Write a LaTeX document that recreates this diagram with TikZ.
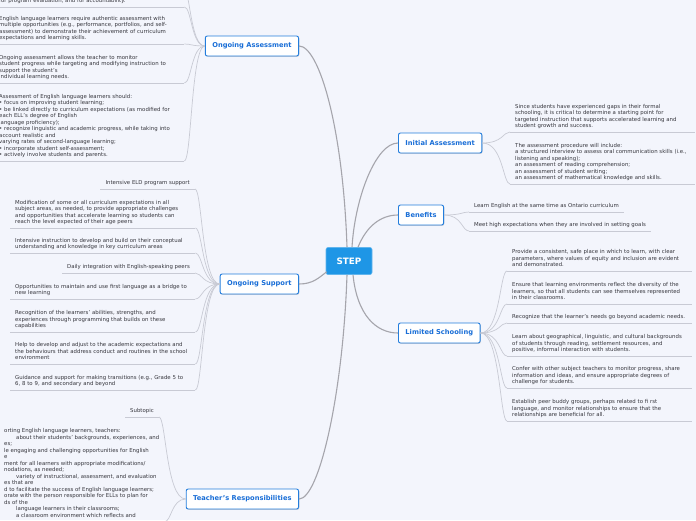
\documentclass[tikz,border=0pt]{standalone}
\usepackage{fontspec}
\setmainfont{DejaVu Sans}
\usetikzlibrary{calc,shadows}
\definecolor{bg}{RGB}{243,245,252}
\definecolor{topicblue}{RGB}{35,125,220}
\definecolor{topictext}{RGB}{25,110,215}
\definecolor{stepblue}{RGB}{30,150,230}
\definecolor{maingray}{RGB}{165,165,172}
\definecolor{leafgray}{RGB}{200,202,212}
\definecolor{leaftext}{RGB}{55,55,62}
\newcommand{\lns}[1]{\begin{tabular}{@{}l@{}}#1\end{tabular}}
\begin{document}
\begin{tikzpicture}[x=1pt,y=-1pt,
  topic/.style={draw=topicblue, line width=0.9pt, fill=white, rounded corners=2pt, text=topictext,
    font=\fontsize{6.7}{8}\selectfont\bfseries, minimum height=20pt, inner xsep=7pt, inner ysep=0pt,
    drop shadow={shadow xshift=0.7pt, shadow yshift=-0.8pt, opacity=0.3}},
  central/.style={fill=stepblue, draw=stepblue!70!white, line width=0.6pt, rounded corners=2pt, text=white,
    font=\fontsize{8.8}{10}\selectfont\bfseries, minimum width=46pt, minimum height=27pt},
  leaf/.style={inner xsep=5pt, inner ysep=2.2pt, align=left, text=leaftext, font=\fontsize{5.4}{6.5}\selectfont},
  mainc/.style={draw=maingray, line width=1.1pt},
  leafc/.style={draw=leafgray, line width=0.7pt},
  uline/.style={draw=leafgray, line width=0.9pt},
  lconL/.style={to path={let \p1=(\tikztostart), \p2=(\tikztotarget) in (\p1) .. controls (\x2+7pt,\y1) and (\x2+7pt,\y2) .. (\p2)}},
  lconR/.style={to path={let \p1=(\tikztostart), \p2=(\tikztotarget) in (\p1) .. controls (\x2-7pt,\y1) and (\x2-7pt,\y2) .. (\p2)}},
]
\useasboundingbox (0,0) rectangle (696,520);
\fill[bg] (0,0) rectangle (696,520);
\clip (0,0) rectangle (696,520);

% central and main topics
\node[central] (S) at (349,261) {STEP};
\node[topic, anchor=east] (OA) at (299,46) {Ongoing Assessment};
\node[topic, anchor=east] (OS) at (299,284) {Ongoing Support};
\node[topic, anchor=east] (TR) at (299,499) {Teacher's Responsibilities};
\node[topic, anchor=west] (IA) at (398,143) {Initial Assessment};
\node[topic, anchor=west] (BE) at (398,215) {Benefits};
\node[topic, anchor=west] (LS) at (398,333) {Limited Schooling};

% main connectors
\draw[mainc] ([xshift=-2pt]S.north) .. controls +(-4,-120) and +(20,0) .. (OA.east);
\draw[mainc] ([xshift=-2pt]S.south) .. controls +(-4,120) and +(20,0) .. (TR.east);
\draw[mainc] ([xshift=1pt,yshift=3pt]S.south west) .. controls +(-8,6) and +(14,0) .. (OS.east);
\draw[mainc] ([xshift=3pt]S.north) .. controls +(3,-50) and +(-22,0) .. (IA.west);
\draw[mainc] ([xshift=9pt]S.north) .. controls +(8,-20) and +(-18,0) .. (BE.west);
\draw[mainc] ([xshift=4pt]S.south) .. controls +(4,40) and +(-22,0) .. (LS.west);

% Ongoing Assessment leaves
\node[leaf, anchor=south west, text width=180pt] (oa0) at (-6,7) {\lns{for program evaluation, and for accountability.}};
\node[leaf, anchor=south west, text width=180pt] (oa1) at (-6,44) {\lns{English language learners require authentic assessment with\\multiple opportunities (e.g., performance, portfolios, and self-\\assessment) to demonstrate their achievement of curriculum\\expectations and learning skills.}};
\node[leaf, anchor=south west, text width=180pt] (oa2) at (-6,83) {\lns{Ongoing assessment allows the teacher to monitor\\student progress while targeting and modifying instruction to\\support the student’s\\individual learning needs.}};
\node[leaf, anchor=south west, text width=180pt] (oa3) at (-6,161) {\lns{Assessment of English language learners should:\\• focus on improving student learning;\\• be linked directly to curriculum expectations (as modified for\\each ELL’s degree of English\\language proficiency);\\• recognize linguistic and academic progress, while taking into\\account realistic and\\varying rates of second-language learning;\\• incorporate student self-assessment;\\• actively involve students and parents.}};
\coordinate (oaup) at (183,-14);
\foreach \nd in {oa0,oa1,oa2,oa3}{\draw[uline] (\nd.south west) -- (\nd.south east); \draw[leafc] (OA.west) to[lconL] (\nd.south east);}
\draw[leafc] (OA.west) to[lconL] (oaup);

% Ongoing Support leaves
\node[leaf, anchor=south east] (os1) at (195,189) {\lns{Intensive ELD program support}};
\node[leaf, anchor=south west, text width=175pt] (os2) at (10,228) {\lns{Modification of some or all curriculum expectations in all\\subject areas, as needed, to provide appropriate challenges\\and opportunities that accelerate learning so students can\\reach the level expected of their age peers}};
\node[leaf, anchor=south west, text width=175pt] (os3) at (10,253) {\lns{Intensive instruction to develop and build on their conceptual\\understanding and knowledge in key curriculum areas}};
\node[leaf, anchor=south east] (os4) at (195,273) {\lns{Daily integration with English-speaking peers}};
\node[leaf, anchor=south west, text width=175pt] (os5) at (10,299) {\lns{Opportunities to maintain and use first language as a bridge to\\new learning}};
\node[leaf, anchor=south west, text width=175pt] (os6) at (10,332) {\lns{Recognition of the learners’ abilities, strengths, and\\experiences through programming that builds on these\\capabilities}};
\node[leaf, anchor=south west, text width=175pt] (os7) at (10,364) {\lns{Help to develop and adjust to the academic expectations and\\the behaviours that address conduct and routines in the school\\environment}};
\node[leaf, anchor=south west, text width=175pt] (os8) at (10,390) {\lns{Guidance and support for making transitions (e.g., Grade 5 to\\6, 8 to 9, and secondary and beyond}};
\foreach \nd in {os1,os2,os3,os4,os5,os6,os7,os8}{\draw[uline] (\nd.south west) -- (\nd.south east); \draw[leafc] (OS.west) to[lconL] (\nd.south east);}

% Teacher's Responsibilities leaves
\node[leaf, anchor=south west] (tr1) at (125,417) {\lns{Subtopic}};
\node[leaf, anchor=north west] (tr2) at (-1,426) {\lns{orting English language learners, teachers:\\\hspace*{12pt}about their students’ backgrounds, experiences, and\\es;\\le engaging and challenging opportunities for English\\e\\ment for all learners with appropriate modifications/\\nodations, as needed;\\\hspace*{12pt}variety of instructional, assessment, and evaluation\\es that are\\d to facilitate the success of English language learners;\\orate with the person responsible for ELLs to plan for\\ds of the\\\hspace*{12pt}language learners in their classrooms;\\\hspace*{12pt}a classroom environment which reflects and}};
\foreach \nd in {tr1,tr2}{\draw[uline] (\nd.south west) -- (\nd.south east); \draw[leafc] (TR.west) to[lconL] (\nd.south east);}

% Initial Assessment leaves
\node[leaf, anchor=south west, text width=175pt] (ia1) at (510,132) {\lns{Since students have experienced gaps in their formal\\schooling, it is critical to determine a starting point for\\targeted instruction that supports accelerated learning and\\student growth and success.}};
\node[leaf, anchor=south west, text width=175pt] (ia2) at (510,184) {\lns{The assessment procedure will include:\\a structured interview to assess oral communication skills (i.e.,\\listening and speaking);\\an assessment of reading comprehension;\\an assessment of student writing;\\an assessment of mathematical knowledge and skills.}};
\foreach \nd in {ia1,ia2}{\draw[uline] (\nd.south west) -- (\nd.south east); \draw[leafc] (IA.east) to[lconR] (\nd.south west);}

% Benefits leaves
\node[leaf, anchor=south west] (b1) at (469,212) {\lns{Learn English at the same time as Ontario curriculum}};
\node[leaf, anchor=south west] (b2) at (469,231) {\lns{Meet high expectations when they are involved in setting goals}};
\foreach \nd in {b1,b2}{\draw[uline] (\nd.south west) -- (\nd.south east); \draw[leafc] (BE.east) to[lconR] (\nd.south west);}

% Limited Schooling leaves
\node[leaf, anchor=south west, text width=175pt] (ls1) at (507,271) {\lns{Provide a consistent, safe place in which to learn, with clear\\parameters, where values of equity and inclusion are evident\\and demonstrated.}};
\node[leaf, anchor=south west, text width=175pt] (ls2) at (507,304) {\lns{Ensure that learning environments reflect the diversity of the\\learners, so that all students can see themselves represented\\in their classrooms.}};
\node[leaf, anchor=south west, text width=175pt] (ls3) at (507,323) {\lns{Recognize that the learner’s needs go beyond academic needs.}};
\node[leaf, anchor=south west, text width=175pt] (ls4) at (507,356) {\lns{Learn about geographical, linguistic, and cultural backgrounds\\of students through reading, settlement resources, and\\positive, informal interaction with students.}};
\node[leaf, anchor=south west, text width=175pt] (ls5) at (507,388) {\lns{Confer with other subject teachers to monitor progress, share\\information and ideas, and ensure appropriate degrees of\\challenge for students.}};
\node[leaf, anchor=south west, text width=175pt] (ls6) at (507,421) {\lns{Establish peer buddy groups, perhaps related to fi rst\\language, and monitor relationships to ensure that the\\relationships are beneficial for all.}};
\foreach \nd in {ls1,ls2,ls3,ls4,ls5,ls6}{\draw[uline] (\nd.south west) -- (\nd.south east); \draw[leafc] (LS.east) to[lconR] (\nd.south west);}
\end{tikzpicture}
\end{document}
